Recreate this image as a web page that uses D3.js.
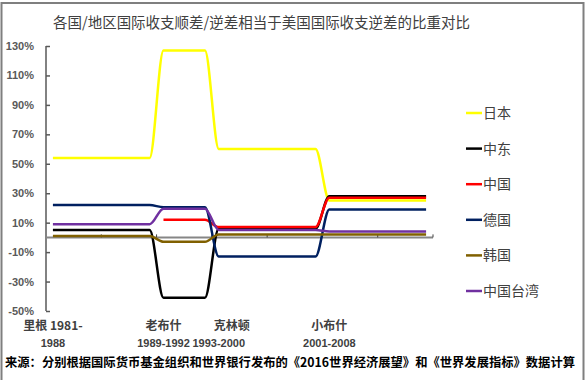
<!DOCTYPE html>
<html>
<head>
<meta charset="utf-8">
<script src="https://cdn.jsdelivr.net/npm/d3@7"></script>
<style>
  body { margin: 0; background: #fff; }
  text { font-family: "Noto Sans CJK SC", "Noto Sans", sans-serif; }
</style>
</head>
<body>
<div id="chart"></div>
<script>
// categories: one per year, 1981-2008
var years = ['1981','1982','1983','1984','1985','1986','1987','1988',
  '1989','1990','1991','1992',
  '1993','1994','1995','1996','1997','1998','1999','2000',
  '2001','2002','2003','2004','2005','2006','2007','2008'];

// ratio (%) by year, constant within each presidency
var japan = [54,54,54,54,54,54,54,54, 127,127,127,127, 60,60,60,60,60,60,60,60, 25,25,25,25,25,25,25,25];
var middleEast = [5,5,5,5,5,5,5,5, -41,-41,-41,-41, 6,6,6,6,6,6,6,6, 28,28,28,28,28,28,28,28];
var china = [null,null,null,null,null,null,null,null, 12,12,12,12, 7,7,7,7,7,7,7,7, 27,27,27,27,27,27,27,27];
var germany = [22,22,22,22,22,22,22,22, 20.5,20.5,20.5,20.5, -13,-13,-13,-13,-13,-13,-13,-13, 19,19,19,19,19,19,19,19];
var korea = [1,1,1,1,1,1,1,1, -3,-3,-3,-3, 2,2,2,2,2,2,2,2, 2,2,2,2,2,2,2,2];
var taiwan = [9,9,9,9,9,9,9,9, 19.5,19.5,19.5,19.5, 5,5,5,5,5,5,5,5, 4,4,4,4,4,4,4,4];

var seriesNames = ['日本','中东','中国','德国','韩国','中国台湾'];
var yTicks = [130,110,90,70,50,30,10,-10,-30,-50];

// x labels: [category year, first line, second line]
var eraLabels = [
  ['1981','里根 1981-','1988'],
  ['1989','老布什','1989-1992'],
  ['1993','克林顿','1993-2000'],
  ['2001','小布什','2001-2008']
];

var titleText = '各国/地区国际收支顺差/逆差相当于美国国际收支逆差的比重对比';
var sourceText = '来源：分别根据国际货币基金组织和世界银行发布的《2016世界经济展望》和《世界发展指标》数据计算';

var series = [japan, middleEast, china, germany, korea, taiwan];
var color = d3.scaleOrdinal()
  .domain(seriesNames)
  .range(['#ffff00','#000000','#ff0000','#002060','#806000','#7030a0']);

var width = 585, height = 380;
var plot = {left: 46, right: 433, top: 46, bottom: 311};

var svg = d3.select('#chart').append('svg')
  .attr('width', width)
  .attr('height', height);

svg.append('rect')
  .attr('x', 1.5).attr('y', 3)
  .attr('width', 582).attr('height', 390)
  .attr('fill', '#fff')
  .attr('stroke', '#7f7f7f')
  .attr('stroke-width', 2);

svg.append('text')
  .attr('x', 53).attr('y', 28)
  .attr('font-size', 15)
  .attr('textLength', 417)
  .attr('lengthAdjust', 'spacingAndGlyphs')
  .attr('fill', '#404040')
  .text(titleText);

var x = d3.scaleBand()
  .domain(years)
  .range([plot.left, plot.right]);

var y = d3.scaleLinear()
  .domain([-50, 130])
  .range([plot.bottom, plot.top]);

// y axis
var yAxis = svg.append('g')
  .attr('transform', 'translate(' + plot.left + ',0)')
  .call(d3.axisLeft(y).tickValues(yTicks).tickSize(-4).tickPadding(12)
    .tickFormat(function(d) { return d + '%'; }));
yAxis.select('.domain').attr('stroke', '#595959').attr('stroke-width', 1.5)
  .attr('d', 'M0,' + plot.top + 'V' + plot.bottom);
yAxis.selectAll('.tick line').attr('stroke', '#595959').attr('stroke-width', 1.5);
yAxis.selectAll('.tick text')
  .attr('font-size', 11)
  .attr('font-weight', 'bold')
  .attr('fill', '#595959')
  .style('font-family', '"Liberation Sans", sans-serif');

// zero line acting as x axis
var zeroY = y(0);
svg.append('line')
  .attr('x1', plot.left).attr('x2', plot.right)
  .attr('y1', zeroY).attr('y2', zeroY)
  .attr('stroke', '#868686')
  .attr('stroke-width', 2);
svg.selectAll('.xtick')
  .data(years.filter(function(d, i) { return i > 0 && i % 4 === 0; }).concat(['end']))
  .enter().append('line')
  .attr('class', 'xtick')
  .attr('x1', function(d) { return d === 'end' ? plot.right : x(d); })
  .attr('x2', function(d) { return d === 'end' ? plot.right : x(d); })
  .attr('y1', zeroY - 3).attr('y2', zeroY)
  .attr('stroke', '#404040')
  .attr('stroke-width', 1);

// lines
var line = d3.line()
  .defined(function(d) { return d != null; })
  .x(function(d, i) { return x(years[i]) + x.bandwidth() / 2; })
  .y(function(d) { return y(d); })
  .curve(d3.curveMonotoneX);

svg.selectAll('.series')
  .data(series)
  .enter().append('path')
  .attr('class', 'series')
  .attr('fill', 'none')
  .attr('stroke', function(d, i) { return color(seriesNames[i]); })
  .attr('stroke-width', 2.5)
  .attr('stroke-linejoin', 'round')
  .attr('d', line);

// x labels
var nudge = {'1993': 13};
var xl = svg.selectAll('.xlabel')
  .data(eraLabels)
  .enter().append('g')
  .attr('class', 'xlabel')
  .attr('transform', function(d) { return 'translate(' + (x(d[0]) + x.bandwidth() / 2) + ',0)'; });
xl.append('text')
  .attr('x', function(d) { return nudge[d[0]] || 0; })
  .attr('y', 330)
  .attr('text-anchor', 'middle')
  .attr('font-size', 12)
  .attr('font-weight', 'bold')
  .attr('fill', '#404040')
  .text(function(d) { return d[1]; });
xl.append('text')
  .attr('y', 347)
  .attr('text-anchor', 'middle')
  .attr('font-size', 11)
  .attr('font-weight', 'bold')
  .attr('fill', '#404040')
  .style('font-family', '"Liberation Sans", sans-serif')
  .text(function(d) { return d[2]; });

// legend
var legend = svg.selectAll('.legend')
  .data(seriesNames)
  .enter().append('g')
  .attr('class', 'legend')
  .attr('transform', function(d, i) { return 'translate(466,' + (113 + i * 35.6) + ')'; });
legend.append('line')
  .attr('x1', 0).attr('x2', 16)
  .attr('stroke', function(d) { return color(d); })
  .attr('stroke-width', 2.5);
legend.append('text')
  .attr('x', 17)
  .attr('dy', '0.35em')
  .attr('font-size', 14)
  .attr('fill', '#404040')
  .text(function(d) { return d; });

// source note
svg.append('text')
  .attr('x', 5).attr('y', 367)
  .attr('font-size', 12.5)
  .attr('font-weight', 'bold')
  .attr('textLength', 570)
  .attr('lengthAdjust', 'spacingAndGlyphs')
  .attr('fill', '#000')
  .text(sourceText);
</script>
</body>
</html>
